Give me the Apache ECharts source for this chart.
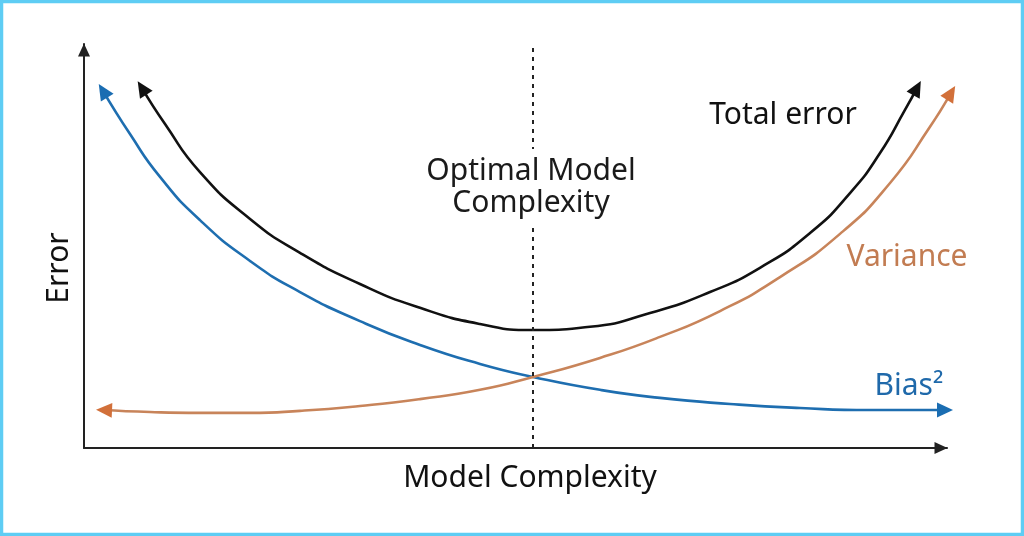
<!DOCTYPE html>
<html><head><meta charset="utf-8">
<script src="https://cdn.jsdelivr.net/npm/echarts@6/dist/echarts.min.js"></script>
<style>html,body{margin:0;padding:0;background:#fff}#c{width:1024px;height:536px}</style>
</head><body><div id="c"></div>
<script>
// ---- data (model complexity, error) ----
const biasData = [[2.2,88.4],[5.33,77.7],[8.81,67.1],[13.44,56.4],[19.24,46.3],[25.03,38.6],[31.98,31.4],[38.93,25.5],[45.89,20.8],[52.03,17.6],[59.79,14.4],[66.74,12.4],[74.86,10.9],[82.97,9.9],[91.08,9.4],[99.77,9.4]];
const varianceData = [[2.32,9.4],[7.65,8.9],[13.44,8.7],[19.24,8.7],[25.03,9.2],[31.98,10.4],[38.93,12.1],[45.89,14.4],[52.03,17.6],[59.79,22.3],[66.74,27.5],[73.7,33.9],[80.65,42.3],[87.6,53.0],[93.4,65.6],[98.03,79.5],[100.46,87.9]];
const totalData = [[6.72,89.1],[9.39,80.2],[13.44,68.3],[19.24,56.7],[25.03,48.3],[31.98,40.6],[38.93,34.7],[45.89,30.7],[52.03,29.2],[58.63,30.0],[65.59,33.4],[72.54,38.6],[78.33,44.6],[84.13,53.2],[88.76,63.1],[92.24,73.0],[95.13,83.7],[96.52,89.1]];
const optimalComplexity = [52.0];
const seriesNames = ['Bias²', 'Variance', 'Total error'];
const axisNames = ['Model Complexity', 'Error'];
const optimalLabel = 'Optimal Model\nComplexity';

const FONT = '"Noto Sans", "Open Sans", sans-serif';
const lineColors = ['#1e6eb0', '#c8845a', '#111111'];
const arrowColors = ['#1a6db2', '#d2703a', '#111111'];
const allData = [biasData, varianceData, totalData];

const chart = echarts.init(document.getElementById('c'), null, {renderer: 'canvas'});

function buildSeries(rot) {
  const s = allData.map((d, i) => ({
    type: 'line',
    name: seriesNames[i],
    smooth: 0.55,
    clip: false,
    showSymbol: true,
    symbol: 'none',
    lineStyle: {color: lineColors[i], width: 2.6},
    itemStyle: {color: arrowColors[i]},
    z: 3,
    data: d.map((p, k) => {
      if (k === 0 || k === d.length - 1) {
        return {value: p, symbol: 'triangle', symbolSize: [15, 16],
                symbolRotate: rot ? rot[i][k === 0 ? 0 : 1] : 0};
      }
      return {value: p, symbol: 'none'};
    })
  }));
  s.push({
    type: 'line', data: [], silent: true,
    markLine: {
      silent: true, symbol: 'none',
      label: {show: false},
      lineStyle: {color: '#222', width: 2, type: [4, 5]},
      data: optimalComplexity.map(v => ({xAxis: v}))
    }
  });
  return s;
}

const option = {
  animation: false,
  backgroundColor: '#fff',
  grid: {left: 84, right: 77, top: 44, bottom: 88},
  xAxis: {
    type: 'value', min: 0, max: 100,
    axisLine: {lineStyle: {color: '#222', width: 2}, symbol: ['none', 'triangle'], symbolSize: [12, 13], symbolOffset: [0, -6]},
    axisTick: {show: false}, axisLabel: {show: false}, splitLine: {show: false}
  },
  yAxis: {
    type: 'value', min: 0, max: 100,
    axisLine: {show: true, lineStyle: {color: '#222', width: 2}, symbol: ['none', 'triangle'], symbolSize: [12, 13], symbolOffset: [0, -6]},
    axisTick: {show: false}, axisLabel: {show: false}, splitLine: {show: false}
  },
  graphic: [
    {type: 'rect', z: 200, silent: true, shape: {x: 1.5, y: 1.5, width: 1021, height: 533},
     style: {fill: null, stroke: '#5ecdf4', lineWidth: 3.5}},
    {type: 'text', z: 100, x: 531, y: 187, style: {text: optimalLabel, font: '30px ' + FONT, fill: '#1a1a1a',
     align: 'center', verticalAlign: 'middle', lineHeight: 32, backgroundColor: '#fff', padding: [6, 4]}},
    {type: 'text', z: 100, x: 783, y: 115, style: {text: seriesNames[2], font: '30px ' + FONT, fill: '#111',
     align: 'center', verticalAlign: 'middle'}},
    {type: 'text', z: 100, x: 907, y: 257, style: {text: seriesNames[1], font: '30px ' + FONT, fill: '#c27c52',
     align: 'center', verticalAlign: 'middle'}},
    {type: 'text', z: 100, x: 909, y: 386, style: {text: seriesNames[0], font: '30px ' + FONT, fill: '#1f69aa',
     align: 'center', verticalAlign: 'middle'}},
    {type: 'text', z: 100, x: 530, y: 478, style: {text: axisNames[0], font: '30px ' + FONT, fill: '#111',
     align: 'center', verticalAlign: 'middle'}},
    {type: 'text', z: 100, x: 59, y: 268, rotation: Math.PI / 2, style: {text: axisNames[1], font: '30px ' + FONT, fill: '#111',
     align: 'center', verticalAlign: 'middle'}}
  ],
  series: buildSeries(null)
};
chart.setOption(option);

// orient arrowheads along the curve ends (in pixel space)
const rot = allData.map((d, i) => {
  const px = d.map(p => chart.convertToPixel({seriesIndex: i}, p));
  const ang = (a, b) => Math.atan2(-(a[1] - b[1]), a[0] - b[0]) * 180 / Math.PI - 90;
  return [ang(px[0], px[1]), ang(px[px.length - 1], px[px.length - 2])];
});
chart.setOption({series: buildSeries(rot)});
</script></body></html>
